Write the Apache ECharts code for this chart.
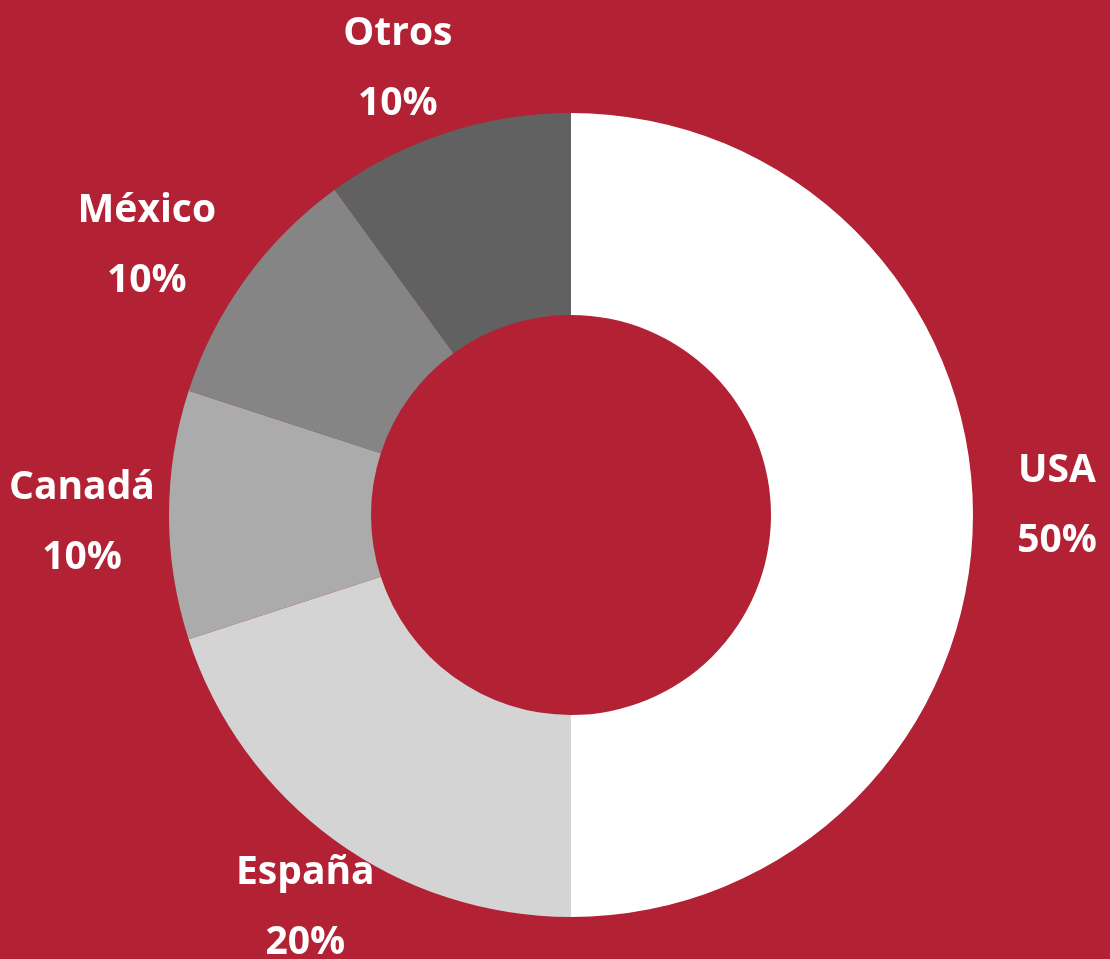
<!DOCTYPE html>
<html>
<head>
<meta charset="utf-8">
<script src="https://cdn.jsdelivr.net/npm/echarts@6/dist/echarts.min.js"></script>
<style>
  html, body { margin: 0; padding: 0; background: #b22234; }
  #chart { width: 1110px; height: 959px; }
</style>
</head>
<body>
<div id="chart"></div>
<script>
    // 各国占比
    const countries = ['USA', 'España', 'Canadá', 'México', 'Otros'];
    const shares = [50, 20, 10, 10, 10];

    const sliceColors = ['#ffffff', '#d4d4d4', '#ababab', '#858585', '#616161'];
    // 标签微调 [dx, dy] (像 Excel 那样手动摆放)
    const labelNudge = [[0, -9], [20, 0], [-3, 8], [-31, 17], [-23, 16]];

    const chart = echarts.init(document.getElementById('chart'));

    const pieData = countries.map((name, i) => {
        return {
            name: name,
            value: shares[i],
            itemStyle: { color: sliceColors[i] }
        };
    });

    const option = {
        backgroundColor: '#b22234',
        animation: false,
        series: [{
            type: 'pie',
            center: [571, 515],
            radius: [200, 402],
            startAngle: 90,
            clockwise: true,
            avoidLabelOverlap: false,
            data: pieData,
            itemStyle: {
                borderWidth: 0
            },
            label: {
                show: true,
                position: 'outside',
                formatter: '{b}\n{d}%',
                color: '#ffffff',
                fontFamily: 'Open Sans',
                fontWeight: 'bold',
                fontSize: 39,
                lineHeight: 70,
                align: 'center'
            },
            labelLine: {
                show: true,
                length: 84,
                length2: 0,
                lineStyle: { opacity: 0 }
            },
            // 标签居中放在引导线末端
            labelLayout: (params) => {
                const pts = params.labelLinePoints;
                if (!pts) {
                    return { align: 'center' };
                }
                const nudge = labelNudge[params.dataIndex] || [0, 0];
                return {
                    x: pts[1][0] + nudge[0],
                    y: pts[1][1] + nudge[1],
                    align: 'center',
                    verticalAlign: 'middle'
                };
            }
        }]
    };

    chart.setOption(option);
</script>
</body>
</html>
